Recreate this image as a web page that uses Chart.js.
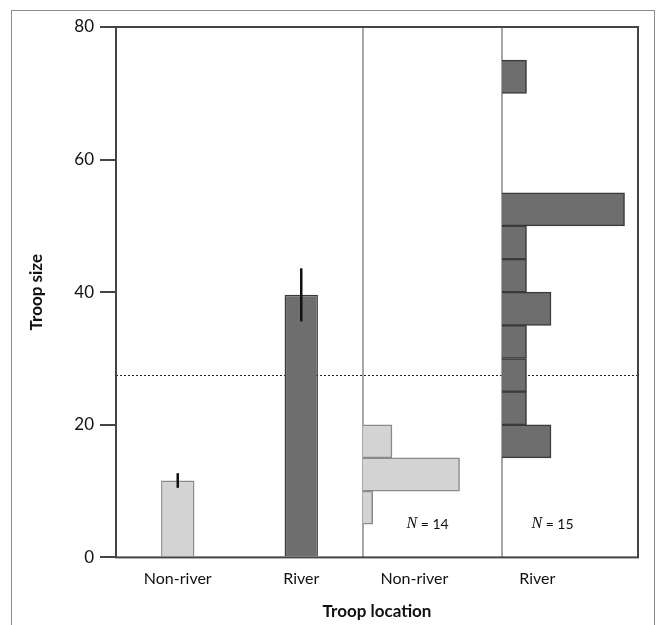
<!DOCTYPE html>
<html>
<head>
<meta charset="utf-8">
<title>Troop size by location</title>
<script src="https://cdn.jsdelivr.net/npm/chart.js@4.4.1/dist/chart.umd.min.js"></script>
<style>
  html, body { margin: 0; padding: 0; background: #fff; overflow: hidden; }
  .frame {
    position: absolute; left: 11px; top: 10px; width: 642px; height: 700px;
    border: 1.5px solid #8c8c8c;
  }
  #chart { position: absolute; left: 0; top: 0; }
</style>
</head>
<body>
<div class="frame"></div>
<canvas id="chart" width="660" height="625"></canvas>
<script>
// --- mean troop size (+/- error) ---
const locations = ['Non-river', 'River'];
const meanSize = [11.6, 39.6];
const meanErr = [1.1, 4.0];

// --- histograms: bin centres (5-wide bins) and number of troops ---
const nonRiverBins = [7.5, 12.5, 17.5];
const nonRiverCounts = [1, 10, 3];
const riverBins = [17.5, 22.5, 27.5, 32.5, 37.5, 42.5, 47.5, 52.5, 72.5];
const riverCounts = [2, 1, 1, 1, 2, 1, 1, 5, 1];

const overallMean = 27.5;
const sampleSizes = ['14', '15'];

const FONT = 'Lato, "Liberation Sans", sans-serif';
const LIGHT = '#d3d3d3', LIGHT_EDGE = '#8a8a8a';
const DARK = '#6e6e6e', DARK_EDGE = '#3a3a3a';
const INK = '#111';

// draws dotted mean line, panel dividers, error bars, plot frame, N labels
const troopDecor = {
    id: 'troopDecor',
    beforeDatasetsDraw(chart) {
        const { ctx, chartArea: a, scales } = chart;
        ctx.save();
        const ym = Math.round(scales.y.getPixelForValue(overallMean)) + 0.5;
        ctx.strokeStyle = '#222';
        ctx.lineWidth = 1;
        ctx.setLineDash([2, 2]);
        ctx.beginPath();
        ctx.moveTo(a.left, ym);
        ctx.lineTo(a.right, ym);
        ctx.stroke();
        ctx.setLineDash([]);

        ctx.strokeStyle = '#8a8a8a';
        ctx.lineWidth = 1.5;
        [scales.xa.left, scales.xb.left].forEach(x => {
            ctx.beginPath();
            ctx.moveTo(x, a.top);
            ctx.lineTo(x, a.bottom);
            ctx.stroke();
        });
        ctx.restore();
    },
    afterDatasetsDraw(chart) {
        const { ctx, chartArea: a, scales } = chart;
        ctx.save();
        // error bars
        const bars = chart.getDatasetMeta(0).data;
        ctx.strokeStyle = INK;
        ctx.lineWidth = 2.5;
        bars.forEach((bar, i) => {
            ctx.beginPath();
            ctx.moveTo(bar.x, scales.y.getPixelForValue(meanSize[i] + meanErr[i]));
            ctx.lineTo(bar.x, scales.y.getPixelForValue(meanSize[i] - meanErr[i]));
            ctx.stroke();
        });

        // plot frame
        ctx.strokeStyle = '#444';
        ctx.lineWidth = 2;
        ctx.strokeRect(a.left, a.top, a.right - a.left, a.bottom - a.top);

        // sample sizes
        const spots = [[scales.xa, 4.5], [scales.xb, 1.2]];
        ctx.fillStyle = INK;
        ctx.textBaseline = 'middle';
        ctx.textAlign = 'left';
        spots.forEach(([sc, v], i) => {
            const x = sc.getPixelForValue(v);
            const y = scales.y.getPixelForValue(5);
            ctx.font = 'italic 16px "Liberation Serif", serif';
            ctx.fillText('N', x, y);
            const w = ctx.measureText('N').width;
            ctx.font = '14px ' + FONT;
            ctx.fillText(' = ' + sampleSizes[i], x + w, y);
        });
        ctx.restore();
    }
};

const singleTick = (frac) => (scale) => {
    scale.ticks = [{ value: scale.max * frac }];
};

const hideGrid = { display: false, drawTicks: false, offset: false };

new Chart(document.getElementById('chart'), {
    type: 'bar',
    data: {
        labels: locations,
        datasets: [
            {
                data: meanSize,
                xAxisID: 'x',
                yAxisID: 'y',
                grouped: false,
                backgroundColor: [LIGHT, DARK],
                borderColor: [LIGHT_EDGE, DARK_EDGE],
                borderWidth: 1.5,
                barPercentage: 0.27,
                categoryPercentage: 1
            },
            {
                indexAxis: 'y',
                data: nonRiverBins.map((b, i) => ({ x: nonRiverCounts[i], y: b })),
                xAxisID: 'xa',
                yAxisID: 'yh',
                grouped: false,
                backgroundColor: LIGHT,
                borderColor: LIGHT_EDGE,
                borderWidth: 1.5,
                barPercentage: 1,
                categoryPercentage: 1
            },
            {
                indexAxis: 'y',
                data: riverBins.map((b, i) => ({ x: riverCounts[i], y: b })),
                xAxisID: 'xb',
                yAxisID: 'yh',
                grouped: false,
                backgroundColor: DARK,
                borderColor: DARK_EDGE,
                borderWidth: 1.5,
                barPercentage: 1,
                categoryPercentage: 1
            }
        ]
    },
    options: {
        responsive: false,
        animation: false,
        layout: { padding: { left: 0, right: 22, top: 27, bottom: 0 } },
        scales: {
            y: {
                type: 'linear',
                position: 'left',
                min: 0,
                max: 80,
                offset: false,
                ticks: { stepSize: 20, padding: 6, color: INK, font: { family: FONT, size: 17 } },
                grid: { drawOnChartArea: false, drawTicks: true, tickLength: 16, color: '#444', lineWidth: 2 },
                border: { display: false },
                title: {
                    display: true,
                    text: 'Troop size',
                    color: INK,
                    font: { family: FONT, size: 17, weight: 'bold' },
                    padding: { top: 26, bottom: 0 }
                },
                afterFit(scale) { scale.width = 116; }
            },
            yh: {
                type: 'linear',
                display: false,
                offset: false,
                min: 0,
                max: 80,
                ticks: { stepSize: 20 }
            },
            x: {
                type: 'category',
                position: 'bottom',
                stack: 'loc',
                stackWeight: 247,
                offset: true,
                grid: { display: false, drawTicks: false },
                border: { display: false },
                ticks: { padding: 12, color: INK, font: { family: FONT, size: 16 } }
            },
            xa: {
                type: 'linear',
                position: 'bottom',
                stack: 'loc',
                stackWeight: 139,
                offset: false,
                min: 0,
                max: 14.4,
                grid: hideGrid,
                border: { display: false },
                afterBuildTicks: singleTick(0.37),
                ticks: { padding: 12, color: INK, font: { family: FONT, size: 16 }, callback: () => 'Non-river' }
            },
            xb: {
                type: 'linear',
                position: 'bottom',
                stack: 'loc',
                stackWeight: 136,
                offset: false,
                min: 0,
                max: 5.55,
                grid: hideGrid,
                border: { display: false },
                afterBuildTicks: singleTick(0.26),
                ticks: { padding: 12, color: INK, font: { family: FONT, size: 16 }, callback: () => 'River' }
            }
        },
        plugins: {
            legend: { display: false },
            tooltip: { enabled: false },
            title: {
                display: true,
                position: 'bottom',
                fullSize: false,
                text: 'Troop location',
                color: INK,
                font: { family: FONT, size: 17, weight: 'bold' },
                padding: { top: 1, bottom: 3 }
            }
        }
    },
    plugins: [troopDecor]
});
</script>
</body>
</html>
